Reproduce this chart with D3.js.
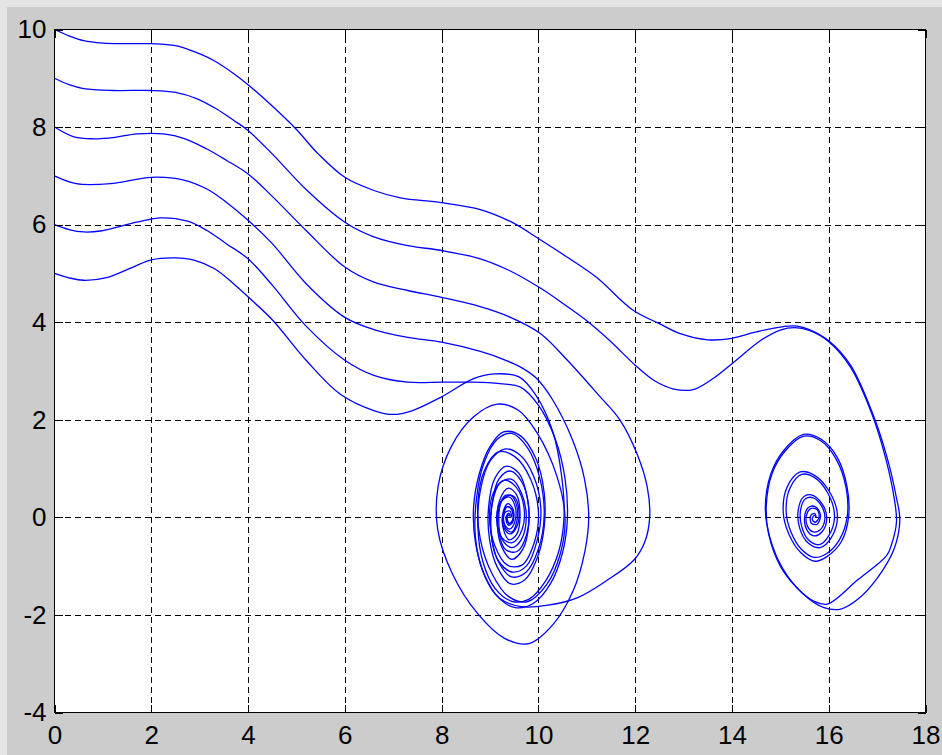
<!DOCTYPE html>
<html>
<head>
<meta charset="utf-8">
<script src="https://cdn.jsdelivr.net/npm/d3@7"></script>
<style>
  html, body { margin: 0; padding: 0; background: #cccccc; }
  svg { display: block; }
</style>
</head>
<body>
<svg id="chart" width="942" height="755"></svg>
<script>
// Axis ticks
const xTicks = [0, 2, 4, 6, 8, 10, 12, 14, 16, 18];
const yTicks = [-4, -2, 0, 2, 4, 6, 8, 10];

// Phase trajectories (x, dx/dt), one per starting velocity
const traj10 = [[0,10],[0.3,9.87],[0.6,9.77],[1.0,9.72],[1.5,9.71],[2.0,9.71],[2.5,9.67],[2.9,9.54],[3.3,9.36],[3.7,9.1],[4.0,8.87],[4.5,8.43],[5.0,7.95],[5.45,7.45],[6.0,6.97],[6.6,6.70],[7.15,6.55],[8.0,6.45],[8.8,6.31],[9.45,6.05],[10.04,5.69],[10.6,5.33],[11.2,4.92],[11.95,4.25],[12.5,3.97],[12.95,3.76],[13.5,3.64],[14.0,3.67],[14.5,3.8],[15.0,3.9],[15.35,3.92],[15.6,3.85],[16.0,3.62],[16.45,3.12],[16.9,2.15],[17.2,1.25],[17.4,0.4],[17.47,-0.05],[17.35,-0.65],[17.0,-1.25],[16.6,-1.68],[16.25,-1.88],[15.9,-1.85],[15.45,-1.55],[15.05,-1.05],[14.78,-0.4],[14.69,0.2],[14.8,0.88],[15.07,1.37],[15.48,1.70],[15.83,1.61],[16.17,1.24],[16.38,0.62],[16.41,0.0],[16.26,-0.5],[15.97,-0.8],[15.72,-0.9],[15.42,-0.72],[15.18,-0.35],[15.06,0.1],[15.14,0.62],[15.41,0.93],[15.69,0.87],[16.0,0.55],[16.18,0.05],[16.05,-0.42],[15.82,-0.62],[15.57,-0.52],[15.4,-0.22],[15.37,0.15],[15.48,0.42],[15.64,0.46],[15.86,0.28],[15.96,-0.02],[15.86,-0.3],[15.7,-0.38],[15.55,-0.26],[15.5,0.0],[15.58,0.2],[15.72,0.22],[15.83,0.05],[15.76,-0.14],[15.64,-0.12],[15.63,0.04],[15.71,0.08],[15.74,0.0]];
const traj9 = [[0,9],[0.3,8.87],[0.6,8.79],[1.2,8.75],[2.0,8.75],[2.5,8.71],[2.95,8.58],[3.35,8.37],[3.7,8.14],[4.0,7.93],[4.5,7.45],[5.2,6.72],[6.0,6.05],[6.6,5.75],[7.3,5.57],[8.0,5.47],[8.8,5.3],[9.4,5.06],[10.04,4.7],[10.5,4.39],[11.0,4.03],[11.5,3.6],[12.0,3.12],[12.4,2.8],[12.8,2.63],[13.2,2.62],[13.6,2.84],[14.0,3.15],[14.6,3.63],[15.0,3.84],[15.3,3.89],[15.6,3.83],[16.0,3.6],[16.45,3.08],[16.9,2.1],[17.18,1.2],[17.36,0.35],[17.4,-0.1],[17.3,-0.55],[17.2,-0.78],[16.6,-1.28],[15.97,-1.78],[15.7,-1.72],[15.35,-1.45],[15.0,-1.0],[14.76,-0.35],[14.71,0.25],[14.83,0.9],[15.1,1.36],[15.47,1.66],[15.82,1.58],[16.15,1.2],[16.36,0.6],[16.38,0.0],[16.22,-0.46],[15.96,-0.74],[15.7,-0.82],[15.44,-0.66],[15.22,-0.3],[15.12,0.12],[15.2,0.6],[15.44,0.88],[15.7,0.82],[15.98,0.5],[16.12,0.03],[16.0,-0.38],[15.8,-0.56],[15.58,-0.46],[15.44,-0.18],[15.42,0.16],[15.52,0.38],[15.68,0.4],[15.86,0.22],[15.92,-0.04],[15.82,-0.26],[15.68,-0.3],[15.56,-0.18],[15.54,0.04],[15.63,0.18],[15.76,0.16],[15.8,0.0],[15.72,-0.1],[15.66,-0.04],[15.7,0.04],[15.74,0.02]];
const traj8 = [[0,8],[0.4,7.8],[0.8,7.76],[1.25,7.79],[1.7,7.86],[2.25,7.86],[2.7,7.76],[3.15,7.55],[3.55,7.32],[4.0,7.04],[4.5,6.58],[5.2,5.88],[6.0,5.13],[6.6,4.82],[7.3,4.65],[8.0,4.51],[8.8,4.32],[9.4,4.11],[10.04,3.77],[10.6,3.22],[11.25,2.5],[11.69,1.99],[12.04,1.3],[12.25,0.62],[12.3,0.0],[12.2,-0.5],[11.97,-0.88],[11.42,-1.29],[10.8,-1.65],[10.2,-1.8],[9.65,-1.83],[9.2,-1.66],[8.9,-1.22],[8.7,-0.52],[8.66,0.2],[8.78,0.9],[9.0,1.45],[9.28,1.75],[9.62,1.68],[9.95,1.2],[10.12,0.5],[10.12,-0.2],[9.97,-0.85],[9.72,-1.28],[9.42,-1.36],[9.15,-1.02],[8.99,-0.45],[8.97,0.2],[9.1,0.8],[9.34,1.05],[9.6,0.9],[9.77,0.4],[9.8,-0.15],[9.68,-0.65],[9.45,-0.86],[9.25,-0.62],[9.15,-0.15],[9.2,0.35],[9.38,0.6],[9.55,0.46],[9.62,0.05],[9.55,-0.35],[9.4,-0.46],[9.28,-0.25],[9.27,0.1],[9.37,0.28],[9.48,0.16],[9.47,-0.1],[9.38,-0.16],[9.33,0.0],[9.39,0.08],[9.42,0.0]];
const traj7 = [[0,7],[0.45,6.84],[1.15,6.84],[2.0,6.97],[2.65,6.92],[3.15,6.73],[3.55,6.46],[4.0,6.09],[4.5,5.61],[5.2,4.79],[6.0,4.10],[6.6,3.85],[7.3,3.69],[8.0,3.59],[8.8,3.4],[9.3,3.23],[9.65,3.07],[9.95,2.86],[10.3,2.4],[10.7,1.6],[10.95,0.8],[11.04,0.0],[10.96,-0.7],[10.72,-1.5],[10.3,-2.2],[9.8,-2.59],[9.3,-2.48],[8.75,-1.98],[8.22,-1.15],[7.92,-0.25],[7.93,0.65],[8.2,1.45],[8.65,2.05],[9.15,2.32],[9.58,2.2],[9.98,1.72],[10.38,0.85],[10.55,0.0],[10.46,-0.72],[10.17,-1.38],[9.77,-1.73],[9.38,-1.62],[9.04,-1.15],[8.8,-0.45],[8.75,0.3],[8.88,0.95],[9.17,1.34],[9.52,1.24],[9.84,0.78],[10.0,0.12],[9.92,-0.5],[9.66,-0.98],[9.36,-0.98],[9.1,-0.58],[8.99,0.0],[9.07,0.5],[9.29,0.76],[9.54,0.62],[9.7,0.22],[9.66,-0.26],[9.46,-0.52],[9.25,-0.42],[9.14,-0.06],[9.21,0.3],[9.39,0.42],[9.52,0.22],[9.51,-0.1],[9.4,-0.24],[9.29,-0.12],[9.31,0.1],[9.41,0.13],[9.45,0.0]];
const traj6 = [[0,6],[0.3,5.9],[0.6,5.85],[0.95,5.87],[1.7,6.05],[2.2,6.14],[2.75,6.07],[3.15,5.88],[3.55,5.61],[4.0,5.3],[4.5,4.76],[5.2,3.92],[6.0,3.22],[6.6,2.91],[7.3,2.77],[8.0,2.77],[8.65,2.77],[9.2,2.74],[9.63,2.67],[10.0,2.3],[10.35,1.6],[10.55,0.8],[10.6,0.0],[10.5,-0.72],[10.25,-1.36],[9.9,-1.76],[9.52,-1.85],[9.15,-1.62],[8.86,-1.12],[8.7,-0.42],[8.72,0.38],[8.87,1.1],[9.15,1.6],[9.45,1.72],[9.78,1.42],[10.03,0.8],[10.12,0.05],[10.0,-0.65],[9.75,-1.12],[9.45,-1.22],[9.18,-0.92],[9.03,-0.38],[9.04,0.25],[9.18,0.78],[9.42,0.95],[9.66,0.72],[9.8,0.22],[9.76,-0.34],[9.56,-0.7],[9.32,-0.66],[9.18,-0.3],[9.18,0.15],[9.32,0.45],[9.5,0.42],[9.6,0.12],[9.55,-0.2],[9.41,-0.34],[9.28,-0.2],[9.27,0.06],[9.36,0.22],[9.47,0.14],[9.47,-0.06],[9.39,-0.13],[9.35,0.02],[9.42,0.05]];
const traj5 = [[0,5],[0.3,4.91],[0.6,4.86],[1.1,4.92],[1.6,5.12],[2.0,5.28],[2.5,5.32],[2.9,5.27],[3.3,5.1],[3.7,4.79],[4.0,4.52],[4.5,4.05],[5.2,3.22],[5.9,2.53],[6.6,2.19],[7.0,2.11],[7.4,2.19],[8.0,2.47],[8.65,2.84],[9.1,2.94],[9.6,2.88],[9.95,2.5],[10.3,1.75],[10.48,0.85],[10.53,0.0],[10.42,-0.7],[10.15,-1.3],[9.8,-1.68],[9.45,-1.72],[9.1,-1.45],[8.85,-0.9],[8.75,-0.2],[8.8,0.55],[9.0,1.15],[9.3,1.4],[9.62,1.28],[9.9,0.85],[10.05,0.2],[9.98,-0.45],[9.75,-1.0],[9.45,-1.12],[9.15,-0.85],[9.02,-0.3],[9.05,0.3],[9.2,0.7],[9.45,0.78],[9.65,0.5],[9.75,0.0],[9.65,-0.45],[9.45,-0.62],[9.25,-0.45],[9.18,-0.05],[9.25,0.35],[9.42,0.45],[9.55,0.25],[9.55,-0.1],[9.45,-0.3],[9.32,-0.22],[9.28,0.05],[9.36,0.22],[9.45,0.15],[9.47,-0.05],[9.4,-0.12],[9.35,0.0],[9.38,0.08],[9.42,0.05]];

const trajectories = [traj10, traj9, traj8, traj7, traj6, traj5];

const W = 942, H = 755;
const plot = { left: 54.5, right: 925.5, top: 29.5, bottom: 712.5 };
const FONT = '"Liberation Sans", Arial, sans-serif';

const svg = d3.select('#chart');

// figure background with a lighter frame edge
svg.append('rect').attr('width', W).attr('height', H).attr('fill', '#e4e4e4');
svg.append('rect').attr('x', 7).attr('y', 7).attr('width', W - 7).attr('height', H - 7).attr('fill', '#cccccc');

const x = d3.scaleLinear().domain([0, 18]).range([plot.left, plot.right]);
const y = d3.scaleLinear().domain([-4, 10]).range([plot.bottom, plot.top]);

// axes area
svg.append('rect')
  .attr('x', plot.left).attr('y', plot.top)
  .attr('width', plot.right - plot.left).attr('height', plot.bottom - plot.top)
  .attr('fill', '#ffffff');

// dashed grid
const grid = svg.append('g')
  .attr('stroke', '#000').attr('stroke-width', 1)
  .attr('stroke-dasharray', '6,4').attr('shape-rendering', 'crispEdges');
grid.selectAll('line.v').data(xTicks.slice(1, -1)).join('line')
  .attr('class', 'v')
  .attr('x1', d => Math.round(x(d)) + 0.5).attr('x2', d => Math.round(x(d)) + 0.5)
  .attr('y1', plot.bottom).attr('y2', plot.top);
grid.selectAll('line.h').data(yTicks.slice(1, -1)).join('line')
  .attr('class', 'h')
  .attr('y1', d => Math.round(y(d)) + 0.5).attr('y2', d => Math.round(y(d)) + 0.5)
  .attr('x1', plot.left).attr('x2', plot.right);

// trajectories
svg.append('clipPath').attr('id', 'clip').append('rect')
  .attr('x', plot.left).attr('y', plot.top)
  .attr('width', plot.right - plot.left).attr('height', plot.bottom - plot.top);

const line = d3.line()
  .x(d => x(d[0]))
  .y(d => y(d[1]))
  .curve(d3.curveCatmullRom.alpha(0.5));

svg.append('g').attr('clip-path', 'url(#clip)')
  .selectAll('path').data(trajectories).join('path')
  .attr('d', line)
  .attr('fill', 'none')
  .attr('stroke', '#0000ff')
  .attr('stroke-width', 1.3)
  .attr('stroke-linejoin', 'round');

// axes with inward ticks
const fmt = d => String(d);
function styleAxis(g) {
  g.select('.domain').remove();
  g.selectAll('.tick line').attr('stroke', '#000').attr('shape-rendering', 'crispEdges');
  g.selectAll('.tick text')
    .attr('fill', '#000')
    .style('font-family', FONT)
    .style('font-size', '26px');
}

svg.append('g')
  .attr('transform', `translate(0,${plot.bottom})`)
  .call(d3.axisBottom(x).tickValues(xTicks).tickSize(-8).tickPadding(13).tickFormat(fmt))
  .call(styleAxis);

svg.append('g')
  .attr('transform', `translate(${plot.left},0)`)
  .call(d3.axisLeft(y).tickValues(yTicks).tickSize(-8).tickPadding(8).tickFormat(fmt))
  .call(styleAxis);

svg.append('g')
  .attr('transform', `translate(0,${plot.top})`)
  .call(d3.axisTop(x).tickValues(xTicks).tickSize(-8).tickFormat(''))
  .call(styleAxis);

svg.append('g')
  .attr('transform', `translate(${plot.right},0)`)
  .call(d3.axisRight(y).tickValues(yTicks).tickSize(-8).tickFormat(''))
  .call(styleAxis);

// axes box
svg.append('rect')
  .attr('x', plot.left).attr('y', plot.top)
  .attr('width', plot.right - plot.left).attr('height', plot.bottom - plot.top)
  .attr('fill', 'none').attr('stroke', '#000').attr('stroke-width', 1);
</script>
</body>
</html>
